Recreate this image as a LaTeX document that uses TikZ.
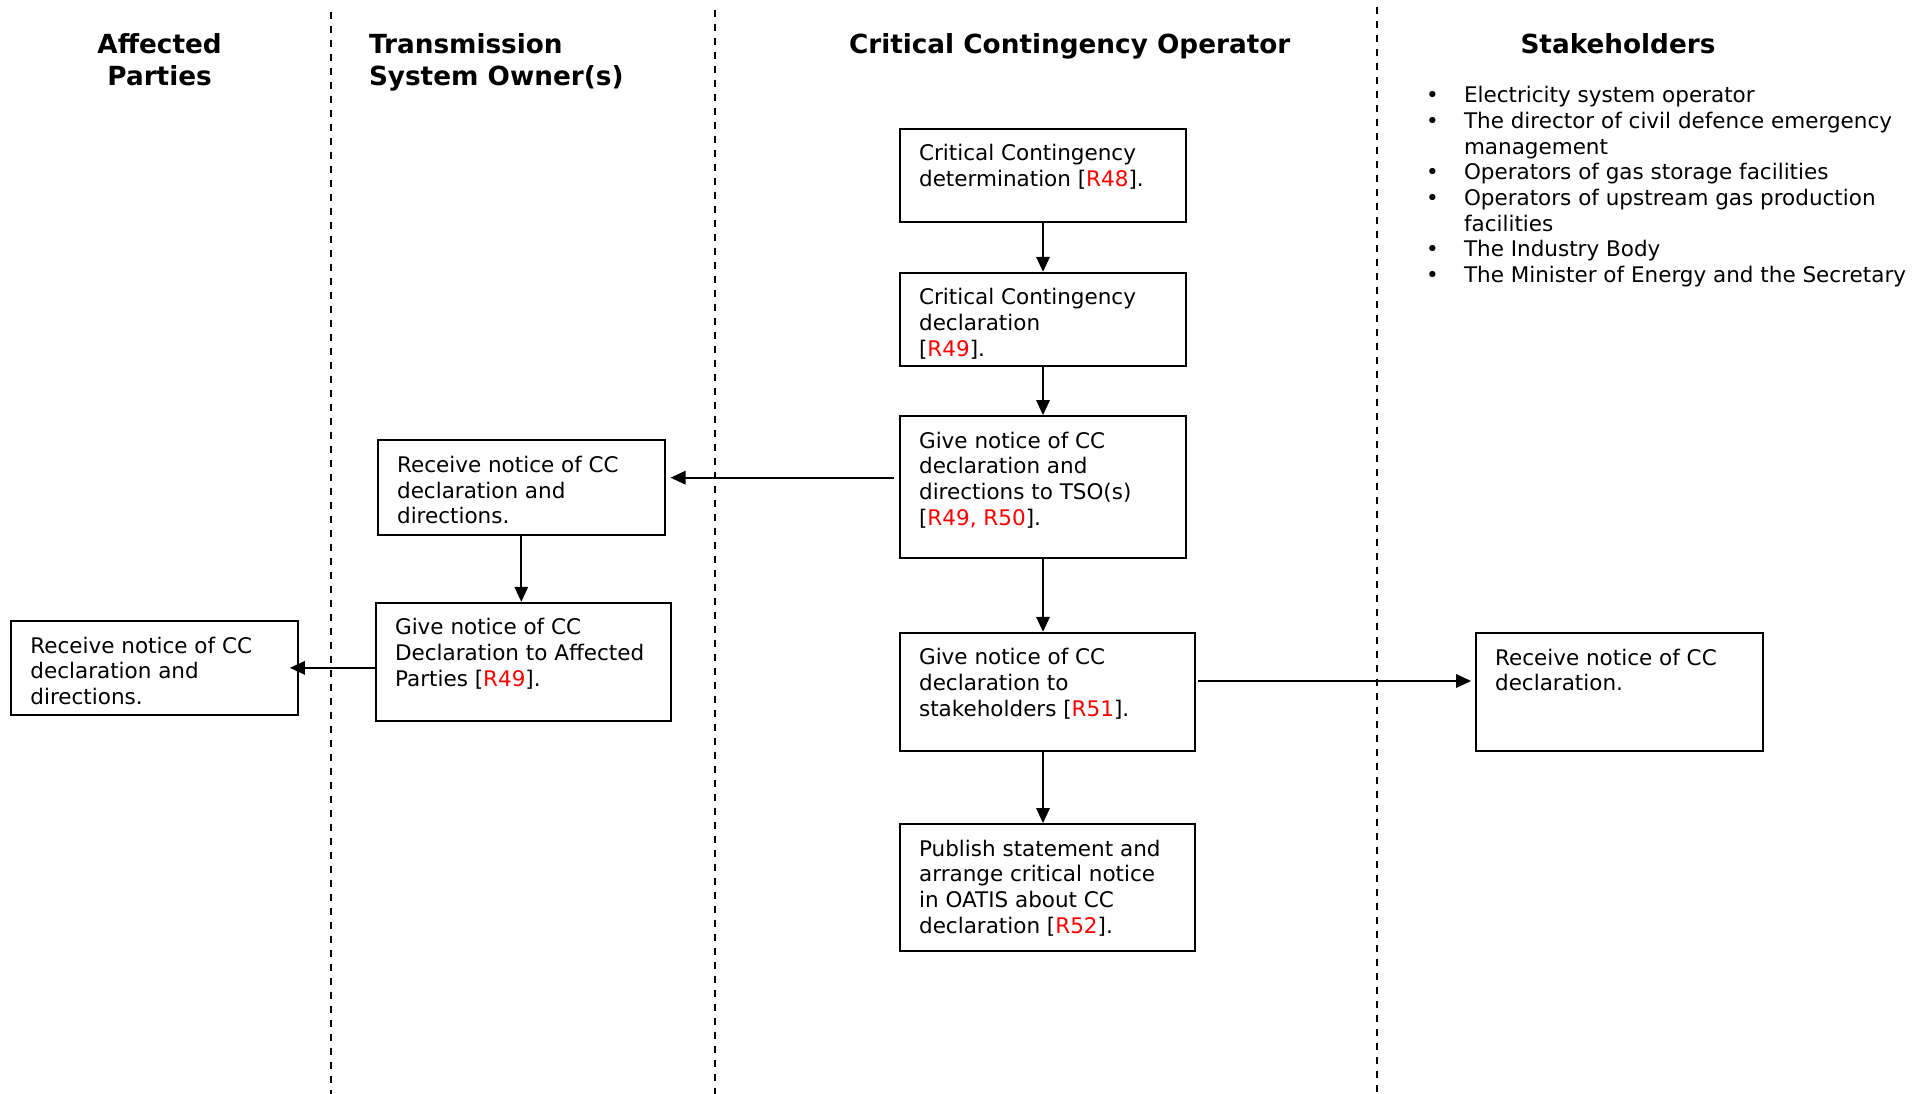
\documentclass[tikz,border=0pt]{standalone}
\usepackage{fontspec}
\setmainfont{DejaVu Sans}
\usetikzlibrary{arrows.meta,calc}
\definecolor{refred}{RGB}{255,0,0}
\newcommand{\rr}[1]{\textcolor{refred}{#1}}
\newcommand{\bodyfont}{\fontsize{21.5}{25.7}\selectfont}
\newcommand{\headfont}{\fontsize{26.3}{32}\selectfont\bfseries}
\newcommand{\btxt}[1]{\parbox[t]{300pt}{\raggedright\bodyfont #1}}
\newcommand{\blt}{\makebox[38pt][l]{•}}
\begin{document}
\begin{tikzpicture}[x=1pt,y=-1pt,
  box/.style={draw=black, line width=1.8pt, inner sep=0pt},
  txt/.style={anchor=base west, inner sep=0pt, outer sep=0pt},
  head/.style={inner sep=0pt, outer sep=0pt},
  arr/.style={line width=1.8pt, -{Triangle[length=15pt,width=13.5pt]}},
  lane/.style={line width=2pt, dash pattern=on 6.7pt off 7.3pt}]

\useasboundingbox (0,0) rectangle (1923,1094);

% swimlane dividers
\draw[lane] (331,12) -- (331,1094);
\draw[lane] (715,10) -- (715,1094);
\draw[lane] (1377,7) -- (1377,1094);

% headers
\node[head, anchor=base] (hAP) at (159.6,53.3) {\parbox[t]{200pt}{\centering\headfont Affected\\Parties}};
\node[head, anchor=base west] (hTSO) at (369,53.3) {\parbox[t]{300pt}{\raggedright\headfont Transmission\\System Owner(s)}};
\node[head, anchor=base] (hCCO) at (1069.7,53.3) {\headfont Critical Contingency Operator};
\node[head, anchor=base] (hSH) at (1618,53.3) {\headfont Stakeholders};

% boxes
\node[box, minimum width=286pt, minimum height=93.3pt] (b1) at (1043,175.35) {};
\node[box, minimum width=286pt, minimum height=93.3pt] (b2) at (1043,319.35) {};
\node[box, minimum width=286pt, minimum height=142pt] (b3) at (1043,487) {};
\node[box, minimum width=295pt, minimum height=118pt] (b4) at (1047.5,691.7) {};
\node[box, minimum width=295pt, minimum height=126.7pt] (b5) at (1047.5,887.35) {};
\node[box, minimum width=286.6pt, minimum height=94.4pt] (tso1) at (521.3,487.5) {};
\node[box, minimum width=295pt, minimum height=118pt] (tso2) at (523.5,661.7) {};
\node[box, minimum width=286.7pt, minimum height=93.7pt] (ap) at (154.65,667.85) {};
\node[box, minimum width=287pt, minimum height=118pt] (sh) at (1619.5,692) {};

% box texts
\node[txt] (t1) at ($(b1.north west)+(20,33)$) {\btxt{Critical Contingency\\determination [\rr{R48}].}};
\node[txt] (t2) at ($(b2.north west)+(20,33)$) {\btxt{Critical Contingency\\declaration\\{[}\rr{R49}].}};
\node[txt] (t3) at ($(b3.north west)+(20,33)$) {\btxt{Give notice of CC\\declaration and\\directions to TSO(s)\\{[}\rr{R49, R50}].}};
\node[txt] (t4) at ($(b4.north west)+(20,33)$) {\btxt{Give notice of CC\\declaration to\\stakeholders [\rr{R51}].}};
\node[txt] (t5) at ($(b5.north west)+(20,33)$) {\btxt{Publish statement and\\arrange critical notice\\in OATIS about CC\\declaration [\rr{R52}].}};
\node[txt] (t6) at ($(tso1.north west)+(20,33)$) {\btxt{Receive notice of CC\\declaration and\\directions.}};
\node[txt] (t7) at ($(tso2.north west)+(20,33)$) {\btxt{Give notice of CC\\Declaration to Affected\\Parties [\rr{R49}].}};
\node[txt] (t8) at ($(ap.north west)+(20,33)$) {\btxt{Receive notice of CC\\declaration and\\directions.}};
\node[txt] (t9) at ($(sh.north west)+(20,33)$) {\btxt{Receive notice of CC\\declaration.}};

% stakeholder list
\node[txt] (shl) at (1426,102.7) {\parbox[t]{490pt}{\bodyfont
\blt Electricity system operator\\
\blt The director of civil defence emergency\\
\hspace*{38pt}management\\
\blt Operators of gas storage facilities\\
\blt Operators of upstream gas production\\
\hspace*{38pt}facilities\\
\blt The Industry Body\\
\blt The Minister of Energy and the Secretary}};

% connectors
\draw[arr] (b1.south) -- (b2.north);
\draw[arr] (b2.south) -- (b3.north);
\draw[arr] (b3.south) -- (b3.south |- b4.north);
\draw[arr] (b3.south |- b4.south) -- (b3.south |- b5.north);
\coordinate (p1) at ([yshift=9.3pt]b3.west);
\draw[arr, shorten <=5pt, shorten >=5pt] (p1) -- (p1 -| tso1.east);
\draw[arr] (tso1.south) -- (tso1.south |- tso2.north);
\draw[arr, shorten >=-9pt] (tso2.west |- ap.east) -- (ap.east);
\coordinate (p2) at ([yshift=10.7pt]b4.east);
\draw[arr, shorten <=2pt, shorten >=4pt] (p2) -- (p2 -| sh.west);
\end{tikzpicture}
\end{document}
